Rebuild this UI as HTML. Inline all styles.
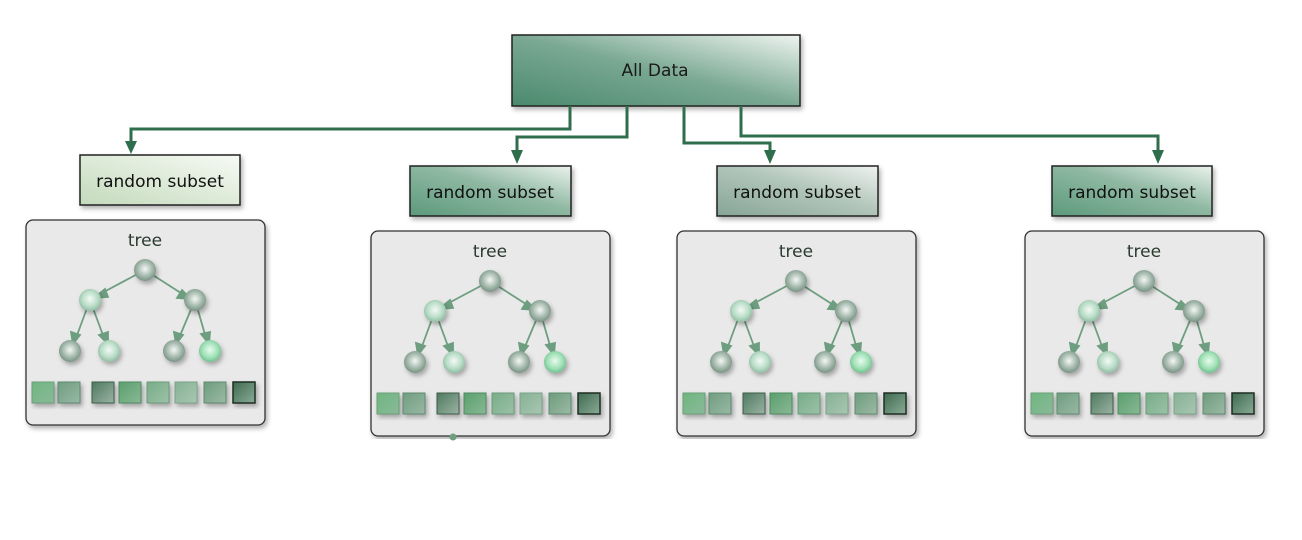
<!DOCTYPE html>
<html><head><meta charset="utf-8"><style>
html,body{margin:0;padding:0;background:#fff;}
svg{display:block;font-family:"DejaVu Sans","Liberation Sans",sans-serif;}
</style></head><body>
<svg width="1302" height="540" viewBox="0 0 1302 540" xmlns="http://www.w3.org/2000/svg">
<defs>
<filter id="sh" x="-10%" y="-10%" width="130%" height="140%">
<feDropShadow dx="2" dy="3" stdDeviation="2.5" flood-color="#000" flood-opacity="0.3"/>
</filter>
<linearGradient id="gAll" x1="0" y1="1" x2="1" y2="0">
<stop offset="0" stop-color="#4a8a6c"/><stop offset="0.5" stop-color="#7aa893"/><stop offset="1" stop-color="#eef4f0"/>
</linearGradient>
<linearGradient id="gDark" x1="0" y1="1" x2="1" y2="0">
<stop offset="0" stop-color="#5c9a7c"/><stop offset="0.55" stop-color="#8fb8a2"/><stop offset="1" stop-color="#eaf2ec"/>
</linearGradient>
<linearGradient id="gGrey" x1="0" y1="1" x2="1" y2="0">
<stop offset="0" stop-color="#86a596"/><stop offset="0.55" stop-color="#b2c6bb"/><stop offset="1" stop-color="#eef2ef"/>
</linearGradient>
<linearGradient id="gLight" x1="0" y1="1" x2="1" y2="0">
<stop offset="0" stop-color="#c3dabc"/><stop offset="1" stop-color="#f7faf4"/>
</linearGradient>
<radialGradient id="nG" cx="0.5" cy="0.45" r="0.6">
<stop offset="0" stop-color="#f4f7f5"/><stop offset="0.6" stop-color="#9fb5a8"/><stop offset="1" stop-color="#6f8a7b"/>
</radialGradient>
<radialGradient id="nL" cx="0.5" cy="0.45" r="0.6">
<stop offset="0" stop-color="#f3faf5"/><stop offset="0.6" stop-color="#b8dcc6"/><stop offset="1" stop-color="#86b59a"/>
</radialGradient>
<radialGradient id="nB" cx="0.5" cy="0.45" r="0.6">
<stop offset="0" stop-color="#e8fbee"/><stop offset="0.6" stop-color="#9fe0b5"/><stop offset="1" stop-color="#64b885"/>
</radialGradient>
<linearGradient id="s1" x1="0" y1="0" x2="1" y2="1"><stop offset="0" stop-color="#6fb67f"/><stop offset="1" stop-color="#8ab99a"/></linearGradient>
<linearGradient id="s2" x1="0" y1="0" x2="1" y2="1"><stop offset="0" stop-color="#6f9e80"/><stop offset="1" stop-color="#99b8a5"/></linearGradient>
<linearGradient id="s3" x1="0" y1="0" x2="1" y2="1"><stop offset="0" stop-color="#4f7a60"/><stop offset="1" stop-color="#9ab3a3"/></linearGradient>
<linearGradient id="s4" x1="0" y1="0" x2="1" y2="1"><stop offset="0" stop-color="#5aa06c"/><stop offset="1" stop-color="#89b896"/></linearGradient>
<linearGradient id="s5" x1="0" y1="0" x2="1" y2="1"><stop offset="0" stop-color="#78ad88"/><stop offset="1" stop-color="#9cc1a8"/></linearGradient>
<linearGradient id="s6" x1="0" y1="0" x2="1" y2="1"><stop offset="0" stop-color="#86b294"/><stop offset="1" stop-color="#a9c6b2"/></linearGradient>
<linearGradient id="s7" x1="0" y1="0" x2="1" y2="1"><stop offset="0" stop-color="#6d9c7c"/><stop offset="1" stop-color="#9cbaa6"/></linearGradient>
<linearGradient id="s8" x1="0" y1="0" x2="1" y2="1"><stop offset="0" stop-color="#3f6a50"/><stop offset="1" stop-color="#8aab96"/></linearGradient>
<g id="tree">
<rect x="0" y="0" width="239" height="205" rx="7" fill="#e9e9e9" stroke="#333" stroke-width="1.3" filter="url(#sh)"/>
<g stroke="#6e9e80" stroke-width="1.8" fill="#6e9e80">
<line x1="119" y1="50" x2="74" y2="74"/><polygon points="68,78 79,69 82,77"/>
<line x1="119" y1="50" x2="158" y2="75"/><polygon points="165,79 151,78 156,70"/>
<line x1="64" y1="80" x2="50" y2="118"/><polygon points="47,124 45,112 54,115"/>
<line x1="64" y1="80" x2="78" y2="118"/><polygon points="82,124 73,115 82,112"/>
<line x1="169" y1="80" x2="153" y2="118"/><polygon points="150,124 148,112 157,115"/>
<line x1="169" y1="80" x2="180" y2="118"/><polygon points="183,124 175,114 184,112"/>
</g>
<g filter="url(#sh)">
<circle cx="119" cy="50" r="11" fill="url(#nG)"/>
<circle cx="64" cy="80" r="11" fill="url(#nL)"/>
<circle cx="169" cy="80" r="11" fill="url(#nG)"/>
<circle cx="44" cy="131" r="11" fill="url(#nG)"/>
<circle cx="83" cy="131" r="11" fill="url(#nL)"/>
<circle cx="148" cy="131" r="11" fill="url(#nG)"/>
<circle cx="184" cy="131" r="11" fill="url(#nB)"/>
</g>
<g stroke-width="1" filter="url(#sh)">
<rect x="6" y="162" width="22" height="21" fill="url(#s1)" stroke="#6a9f78"/>
<rect x="32" y="162" width="22" height="21" fill="url(#s2)" stroke="#5f8a70"/>
<rect x="66" y="162" width="22" height="21" fill="url(#s3)" stroke="#3d5c48"/>
<rect x="93" y="162" width="22" height="21" fill="url(#s4)" stroke="#4e8a60"/>
<rect x="121" y="162" width="22" height="21" fill="url(#s5)" stroke="#6a9a7a"/>
<rect x="149" y="162" width="22" height="21" fill="url(#s6)" stroke="#7aa288"/>
<rect x="178" y="162" width="22" height="21" fill="url(#s7)" stroke="#5f8a6e"/>
<rect x="207" y="162" width="22" height="21" fill="url(#s8)" stroke="#1e2e24" stroke-width="1.5"/>
</g>
</g>
</defs>

<!-- All Data -->
<rect x="512" y="35" width="288" height="71" fill="url(#gAll)" stroke="#222" stroke-width="1.5" filter="url(#sh)"/>
<text x="655" y="76" font-size="17" text-anchor="middle" fill="#1a1a1a">All Data</text>

<!-- connectors -->
<g stroke="#2f6e4c" stroke-width="3" fill="none">
<polyline points="570,106 570,129 131,129 131,143"/>
<polyline points="627,106 627,137 517,137 517,153"/>
<polyline points="684,106 684,143 770,143 770,153"/>
<polyline points="741,106 741,136 1158,136 1158,153"/>
</g>
<g fill="#2f6e4c">
<polygon points="125,141 137,141 131,154"/>
<polygon points="511,150 523,150 517,164"/>
<polygon points="764,150 776,150 770,164"/>
<polygon points="1152,150 1164,150 1158,164"/>
</g>

<!-- subsets -->
<rect x="80" y="155" width="160" height="50" fill="url(#gLight)" stroke="#222" stroke-width="1.5" filter="url(#sh)"/>
<text x="160" y="187" font-size="17" text-anchor="middle" fill="#111">random subset</text>
<rect x="410" y="166" width="161" height="50" fill="url(#gDark)" stroke="#222" stroke-width="1.5" filter="url(#sh)"/>
<text x="490" y="198" font-size="17" text-anchor="middle" fill="#111">random subset</text>
<rect x="717" y="166" width="161" height="50" fill="url(#gGrey)" stroke="#222" stroke-width="1.5" filter="url(#sh)"/>
<text x="797" y="198" font-size="17" text-anchor="middle" fill="#111">random subset</text>
<rect x="1052" y="166" width="160" height="50" fill="url(#gDark)" stroke="#222" stroke-width="1.5" filter="url(#sh)"/>
<text x="1132" y="198" font-size="17" text-anchor="middle" fill="#111">random subset</text>

<!-- tree panels -->
<use href="#tree" x="26" y="220"/>
<text x="145" y="246" font-size="17" text-anchor="middle" fill="#2a3a30">tree</text>
<use href="#tree" x="371" y="231"/>
<text x="490" y="257" font-size="17" text-anchor="middle" fill="#2a3a30">tree</text>
<use href="#tree" x="677" y="231"/>
<text x="796" y="257" font-size="17" text-anchor="middle" fill="#2a3a30">tree</text>
<use href="#tree" x="1025" y="231"/>
<text x="1144" y="257" font-size="17" text-anchor="middle" fill="#2a3a30">tree</text>
<rect x="360" y="439" width="930" height="20" fill="#fff"/>
<circle cx="453" cy="437" r="3.5" fill="#6e9e80"/>
</svg>
</body></html>
